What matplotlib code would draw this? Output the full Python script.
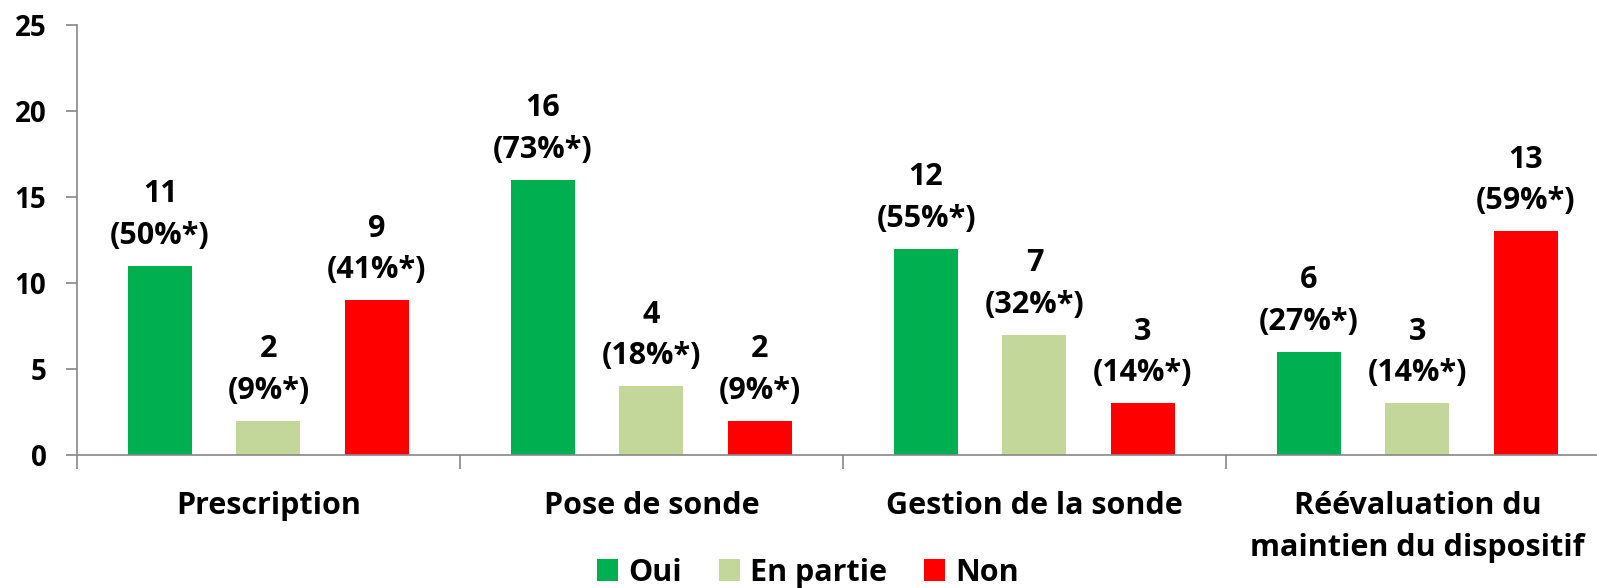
import matplotlib.pyplot as plt
import numpy as np

plt.rcParams['font.family'] = ['Open Sans', 'DejaVu Sans']

categories = ['Prescription', 'Pose de sonde', 'Gestion de la sonde',
              'Réévaluation du\nmaintien du dispositif']
series = ['Oui', 'En partie', 'Non']
oui = [11, 16, 12, 6]
en_partie = [2, 4, 7, 3]
non = [9, 2, 3, 13]
pct_oui = [50, 73, 55, 27]
pct_en_partie = [9, 18, 32, 14]
pct_non = [41, 9, 14, 59]

colors = ['#00B050', '#C4D79B', '#FF0000']

fig = plt.figure(figsize=(15.97, 5.88), dpi=100)
# the plot area runs a little past the right edge, as in the original
ax = fig.add_axes([0.0482, 0.2262, 0.9593, 0.7313])

x = np.arange(len(categories))
offsets = [-0.283, 0, 0.283]
width = 0.167

for vals, pcts, off, col, name in zip([oui, en_partie, non],
                                      [pct_oui, pct_en_partie, pct_non],
                                      offsets, colors, series):
    ax.bar(x + off, vals, width, color=col, label=name)
    for xi, v, p in zip(x, vals, pcts):
        ax.annotate(f'{v}\n({p}%*)', xy=(xi + off, v), xytext=(0, 15),
                    textcoords='offset pixels', ha='center', va='bottom',
                    multialignment='center', fontsize=22, fontweight='bold',
                    linespacing=1.5)

ax.set_xlim(-0.5, 3.5)
ax.set_ylim(0, 25)
ax.set_yticks(range(0, 26, 5))
ax.set_xticks(x)
ax.set_xticklabels(categories, fontsize=22, fontweight='bold', linespacing=1.5)
ax.set_xticks(np.arange(-0.5, 4, 1), minor=True)
ax.tick_params(axis='x', which='major', length=0, pad=26)
ax.tick_params(axis='x', which='minor', length=10, color='#888888', width=1.2)
ax.tick_params(axis='y', length=8, color='#888888', width=1.2, labelsize=20, pad=14)
for lab in ax.get_yticklabels():
    lab.set_fontweight('bold')

for s in ['top', 'right']:
    ax.spines[s].set_visible(False)
for s in ['left', 'bottom']:
    ax.spines[s].set_color('#888888')
    ax.spines[s].set_linewidth(1.2)

ax.legend(loc='center', bbox_to_anchor=(0.506, 0.026), bbox_transform=fig.transFigure,
          ncol=3, frameon=False, prop={'size': 22, 'weight': 'bold'},
          handlelength=0.7, handleheight=0.7, columnspacing=1.2, handletextpad=0.33)

fig.savefig('out.png', dpi=100)
